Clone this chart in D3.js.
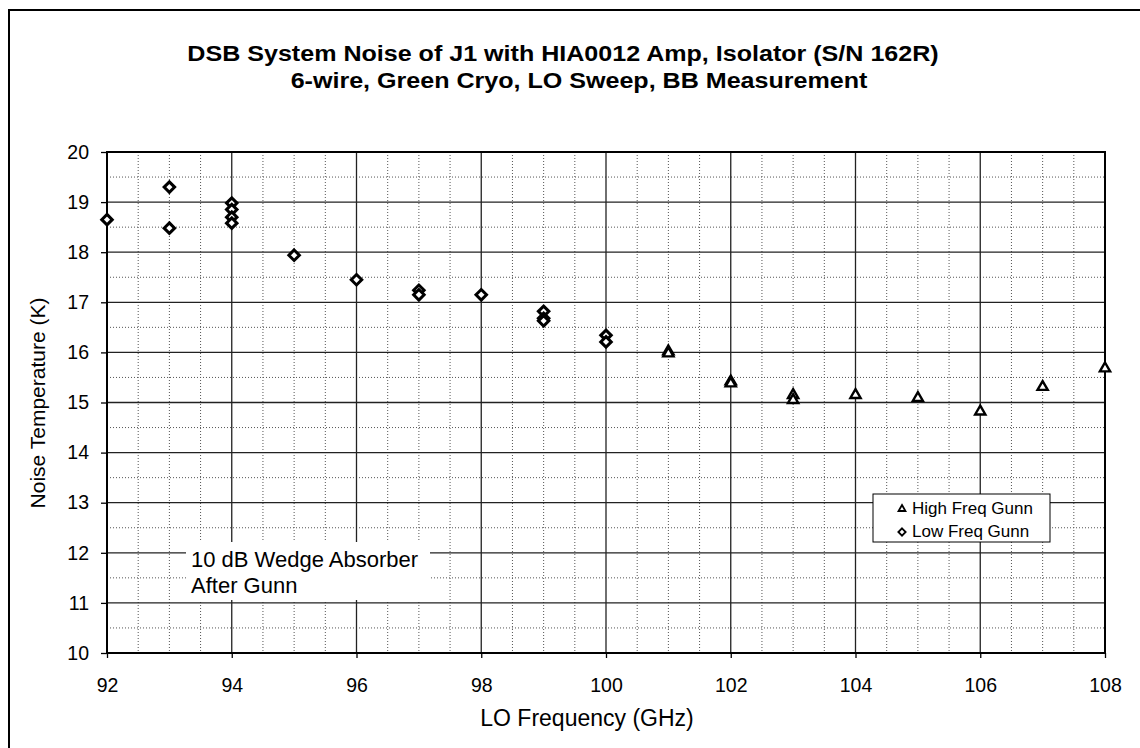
<!DOCTYPE html>
<html>
<head>
<meta charset="utf-8">
<script src="https://cdn.jsdelivr.net/npm/d3@7"></script>
<style>
  html, body { margin: 0; padding: 0; background: #fff; }
  svg { display: block; font-family: "Liberation Sans", Arial, sans-serif; }
</style>
</head>
<body>
<svg id="chart" width="1140" height="748"></svg>
<script>
// LO sweep measurements, grouped by Gunn oscillator
const lowFreqGunn = [
  [92, 18.65],
  [93, 19.30], [93, 18.48],
  [94, 18.98], [94, 18.85], [94, 18.70], [94, 18.58],
  [95, 17.94],
  [96, 17.45],
  [97, 17.24], [97, 17.15],
  [98, 17.15],
  [99, 16.82], [99, 16.68], [99, 16.63],
  [100, 16.34], [100, 16.21]
];
const highFreqGunn = [
  [101, 16.02], [101, 15.98],
  [102, 15.42], [102, 15.38],
  [103, 15.15], [103, 15.05],
  [104, 15.15],
  [105, 15.09],
  [106, 14.82],
  [107, 15.31],
  [108, 15.68]
];
const xTicks = [92, 94, 96, 98, 100, 102, 104, 106, 108];
const yTicks = [10, 11, 12, 13, 14, 15, 16, 17, 18, 19, 20];
const titleLines = [
  "DSB System Noise of J1 with HIA0012 Amp, Isolator (S/N 162R)",
  "6-wire, Green Cryo, LO Sweep, BB Measurement"
];
const legendItems = [
  { label: "High Freq Gunn", shape: "triangle" },
  { label: "Low Freq Gunn", shape: "diamond" }
];
const noteLines = ["10 dB Wedge Absorber", "After Gunn"];

const svg = d3.select("#chart");
const plot = { left: 107, right: 1105, top: 152, bottom: 653 };

const x = d3.scaleLinear().domain([92, 108]).range([plot.left, plot.right]);
const y = d3.scaleLinear().domain([10, 20]).range([plot.bottom, plot.top]);

// outer chart-area border (runs off the right and bottom edges)
svg.append("rect")
  .attr("x", 9).attr("y", 10).attr("width", 1150).attr("height", 760)
  .attr("fill", "#fff").attr("stroke", "#000").attr("stroke-width", 2);

// title, drawn in a slightly wide bold face
const titleCenters = [563, 579];
svg.append("g").selectAll("text").data(titleLines).join("text")
  .attr("transform", (d, i) => `translate(${titleCenters[i]},${61 + i * 27}) scale(1.14,1)`)
  .attr("text-anchor", "middle")
  .attr("font-weight", "bold").attr("font-size", 22)
  .text(d => d);

// minor dotted gridlines every 0.5 K and every 0.5 GHz
const minorY = d3.range(10.5, 20, 1);
const minorX = d3.range(92.5, 108, 0.5).filter(v => v % 2 !== 0);
const grid = svg.append("g");
grid.selectAll("line.my").data(minorY).join("line")
  .attr("x1", plot.left).attr("x2", plot.right)
  .attr("y1", d => y(d)).attr("y2", d => y(d))
  .attr("stroke", "#555").attr("stroke-width", 1).attr("stroke-dasharray", "1,2");
grid.selectAll("line.mx").data(minorX).join("line")
  .attr("y1", plot.top).attr("y2", plot.bottom)
  .attr("x1", d => x(d)).attr("x2", d => x(d))
  .attr("stroke", "#555").attr("stroke-width", 1).attr("stroke-dasharray", "1,2");
// major solid gridlines
grid.selectAll("line.My").data(yTicks.slice(1, -1)).join("line")
  .attr("x1", plot.left).attr("x2", plot.right)
  .attr("y1", d => y(d)).attr("y2", d => y(d))
  .attr("stroke", "#222").attr("stroke-width", 1.3);
grid.selectAll("line.Mx").data(xTicks.slice(1, -1)).join("line")
  .attr("y1", plot.top).attr("y2", plot.bottom)
  .attr("x1", d => x(d)).attr("x2", d => x(d))
  .attr("stroke", "#222").attr("stroke-width", 1.3);

// annotation with white backing
const note = svg.append("g");
note.append("rect")
  .attr("x", 186).attr("y", 542).attr("width", 244).attr("height", 58)
  .attr("fill", "#fff");
note.selectAll("text").data(noteLines).join("text")
  .attr("x", 191).attr("y", (d, i) => 567 + i * 26)
  .attr("font-size", 22)
  .text(d => d);

// plot frame
svg.append("rect")
  .attr("x", plot.left).attr("y", plot.top)
  .attr("width", plot.right - plot.left).attr("height", plot.bottom - plot.top)
  .attr("fill", "none").attr("stroke", "#000").attr("stroke-width", 2);

// axes
const xAxis = svg.append("g")
  .attr("transform", `translate(0,${plot.bottom})`)
  .call(d3.axisBottom(x).tickValues(xTicks).tickSize(5).tickPadding(20).tickFormat(d3.format("d")));
const yAxis = svg.append("g")
  .attr("transform", `translate(${plot.left},0)`)
  .call(d3.axisLeft(y).tickValues(yTicks).tickSize(6).tickPadding(12).tickFormat(d3.format("d")));
[xAxis, yAxis].forEach(a => {
  a.select(".domain").remove();
  a.selectAll("line").attr("stroke", "#000").attr("stroke-width", 1.3);
  a.selectAll("text").attr("font-size", 19.5).attr("fill", "#000")
    .attr("font-family", "'Liberation Sans', Arial, sans-serif");
});

// axis titles
svg.append("text")
  .attr("x", 587).attr("y", 726).attr("text-anchor", "middle")
  .attr("font-size", 23).text("LO Frequency (GHz)");
svg.append("text")
  .attr("transform", "translate(45,403) rotate(-90)").attr("text-anchor", "middle")
  .attr("font-size", 21).text("Noise Temperature (K)");

// markers
const diamond = d3.symbol().type(d3.symbolDiamond2).size(70);
const triangle = d3.symbol().type(d3.symbolTriangle2).size(75);
const marks = svg.append("g");
marks.selectAll("path.low").data(lowFreqGunn).join("path")
  .attr("class", "low")
  .attr("d", diamond)
  .attr("transform", d => `translate(${x(d[0])},${y(d[1])})`)
  .attr("fill", "#fff").attr("stroke", "#000").attr("stroke-width", 3);
marks.selectAll("path.high").data(highFreqGunn).join("path")
  .attr("class", "high")
  .attr("d", triangle)
  .attr("transform", d => `translate(${x(d[0])},${y(d[1])})`)
  .attr("fill", "#fff").attr("stroke", "#000").attr("stroke-width", 2.4);

// legend
const legend = svg.append("g").attr("transform", "translate(873,494)");
legend.append("rect").attr("width", 177).attr("height", 48)
  .attr("fill", "#fff").attr("stroke", "#000").attr("stroke-width", 1);
const entry = legend.selectAll("g").data(legendItems).join("g")
  .attr("transform", (d, i) => `translate(0,${14 + i * 23})`);
entry.append("path")
  .attr("d", d => (d.shape === "triangle" ? d3.symbol().type(d3.symbolTriangle2).size(34) : d3.symbol().type(d3.symbolDiamond2).size(34))())
  .attr("transform", "translate(29,1)")
  .attr("fill", "#fff").attr("stroke", "#000").attr("stroke-width", 1.8);
entry.append("text").attr("x", 39).attr("y", 6)
  .attr("font-size", 17).text(d => d.label);
</script>
</body>
</html>
